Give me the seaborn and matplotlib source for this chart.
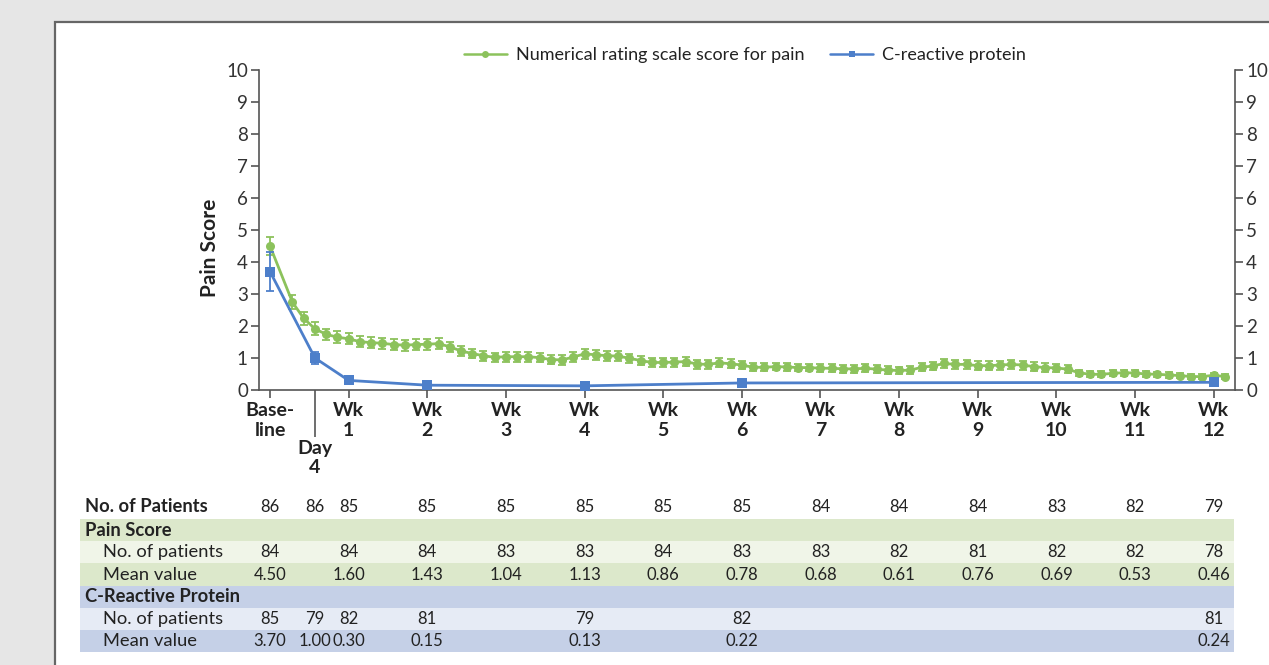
import matplotlib
matplotlib.use("Agg")
import matplotlib.pyplot as plt
import matplotlib.transforms as mtransforms
from matplotlib.patches import Rectangle
from matplotlib.lines import Line2D
import pandas as pd
import seaborn as sns

# ---- data -------------------------------------------------------------
# Daily numerical rating scale (NRS) pain score; day 0 is baseline
pain_days = [0] + list(range(2, 86))
pain_mean = [
    4.50, 2.74, 2.24, 1.91, 1.74, 1.65, 1.60, 1.51, 1.48, 1.46,
    1.42, 1.40, 1.42, 1.43, 1.45, 1.35, 1.22, 1.14, 1.07, 1.02,
    1.04, 1.04, 1.04, 1.01, 0.95, 0.94, 1.03, 1.13, 1.10, 1.07,
    1.06, 0.99, 0.92, 0.86, 0.86, 0.87, 0.89, 0.81, 0.80, 0.85,
    0.82, 0.78, 0.71, 0.71, 0.73, 0.72, 0.70, 0.70, 0.68, 0.68,
    0.66, 0.66, 0.68, 0.65, 0.62, 0.61, 0.62, 0.71, 0.75, 0.83,
    0.80, 0.80, 0.76, 0.76, 0.78, 0.80, 0.78, 0.73, 0.70, 0.69,
    0.65, 0.54, 0.49, 0.49, 0.52, 0.54, 0.53, 0.50, 0.49, 0.47,
    0.45, 0.42, 0.42, 0.46, 0.42,
]
pain_err = [
    0.27, 0.22, 0.20, 0.20, 0.18, 0.18, 0.17, 0.17, 0.17, 0.17,
    0.17, 0.17, 0.17, 0.17, 0.17, 0.16, 0.16, 0.15, 0.15, 0.15,
    0.15, 0.15, 0.15, 0.15, 0.15, 0.15, 0.15, 0.16, 0.16, 0.15,
    0.15, 0.15, 0.15, 0.14, 0.14, 0.14, 0.14, 0.14, 0.14, 0.14,
    0.14, 0.13, 0.12, 0.12, 0.12, 0.12, 0.12, 0.12, 0.12, 0.12,
    0.12, 0.12, 0.12, 0.12, 0.12, 0.12, 0.12, 0.13, 0.14, 0.15,
    0.15, 0.15, 0.14, 0.14, 0.14, 0.14, 0.14, 0.13, 0.13, 0.13,
    0.12, 0.10, 0.09, 0.09, 0.09, 0.09, 0.09, 0.09, 0.08, 0.08,
    0.08, 0.08, 0.08, 0.08, 0.08,
]

# C-reactive protein (mg/dl)
crp_days = [0, 4, 7, 14, 28, 42, 84]
crp_mean = [3.70, 1.00, 0.30, 0.15, 0.13, 0.22, 0.24]
crp_err = [0.62, 0.20, 0.04, 0.03, 0.03, 0.03, 0.04]

# Axis ticks
week_days = [0, 7, 14, 21, 28, 35, 42, 49, 56, 63, 70, 77, 84]
week_labels = ["Base-\nline"] + [f"Wk\n{w}" for w in range(1, 13)]

# Table below the chart
table_days = [0, 4, 7, 14, 21, 28, 35, 42, 49, 56, 63, 70, 77, 84]
n_patients = [86, 86, 85, 85, 85, 85, 85, 85, 84, 84, 84, 83, 82, 79]
pain_table_days = week_days
pain_n = [84, 84, 84, 83, 83, 84, 83, 83, 82, 81, 82, 82, 78]
pain_table_mean = ["4.50", "1.60", "1.43", "1.04", "1.13", "0.86", "0.78",
                   "0.68", "0.61", "0.76", "0.69", "0.53", "0.46"]
crp_n = [85, 79, 82, 81, 79, 82, 81]
crp_table_mean = ["3.70", "1.00", "0.30", "0.15", "0.13", "0.22", "0.24"]

# ---- style ------------------------------------------------------------
GREEN = "#8cc25c"
BLUE = "#4d7fca"
AXIS = "#555555"
TEXT = "#222222"
W, H = 1269, 665

sns.set_theme(style="white")
plt.rcParams["font.family"] = ["Lato", "DejaVu Sans"]
plt.rcParams["text.color"] = TEXT

fig = plt.figure(figsize=(W / 100, H / 100), dpi=100, facecolor="#e6e6e6")

# white panel with a dark frame
fig.add_artist(Rectangle((55 / W, -0.1), 1.2, 1 - 22 / H + 0.1,
                         transform=fig.transFigure, facecolor="white",
                         edgecolor="#666666", lw=1.6, zorder=-5))

ax = fig.add_axes([259 / W, 1 - 390 / H, (1235 - 259) / W, (390 - 70) / H])
ax.set_facecolor("none")

# pain score series
pain_df = pd.DataFrame({"day": pain_days, "score": pain_mean})
ax.errorbar(pain_days, pain_mean, yerr=pain_err, fmt="none", ecolor=GREEN,
            elinewidth=1.3, capsize=3.0, capthick=1.3, zorder=2)
sns.lineplot(data=pain_df, x="day", y="score", color=GREEN, marker="o",
             markersize=6.5, markeredgewidth=0, linewidth=2.0,
             estimator=None, errorbar=None, ax=ax, zorder=3)

# CRP series
crp_df = pd.DataFrame({"day": crp_days, "crp": crp_mean})
ax.errorbar(crp_days, crp_mean, yerr=crp_err, fmt="none", ecolor=BLUE,
            elinewidth=1.3, capsize=3.0, capthick=1.3, zorder=4)
sns.lineplot(data=crp_df, x="day", y="crp", color=BLUE, marker="s",
             markersize=6.5, markeredgewidth=0, linewidth=2.0,
             estimator=None, errorbar=None, ax=ax, zorder=5)

ax.set_xlim(-0.98, 85.9)
ax.set_ylim(0, 10)
ax.set_xlabel("")
ax.set_ylabel("")

for side in ("left", "right", "bottom"):
    ax.spines[side].set_visible(True)
    ax.spines[side].set_color(AXIS)
    ax.spines[side].set_linewidth(1.2)
ax.spines["top"].set_visible(False)

ax.set_yticks(range(0, 11))
ax.tick_params(axis="y", left=True, right=True, labelleft=True,
               labelright=True, direction="out", length=6, width=1.2,
               color=AXIS, labelsize=13.5, labelcolor="#333333", pad=2)

ax.set_xticks(week_days, week_labels)
ax.set_xticks([4], ["Day\n4"], minor=True)
ax.tick_params(axis="x", which="major", bottom=True, direction="out",
               length=6, width=1.2, color=AXIS, labelsize=14,
               labelcolor=TEXT, pad=3)
ax.tick_params(axis="x", which="minor", bottom=True, direction="out",
               length=34, width=1.2, color=AXIS, labelsize=14,
               labelcolor=TEXT, pad=2)
for lbl in ax.get_xticklabels(which="both"):
    lbl.set_fontweight("bold")
    lbl.set_linespacing(1.15)

fig.text(210 / W, 1 - 248 / H, "Pain Score", rotation=90, ha="center",
         va="center", fontsize=15, fontweight="bold", color=TEXT)

# legend
handles = [
    Line2D([], [], color=GREEN, marker="o", markersize=5, lw=1.8,
           markeredgewidth=0),
    Line2D([], [], color=BLUE, marker="s", markersize=5, lw=1.8,
           markeredgewidth=0),
]
fig.legend(handles, ["Numerical rating scale score for pain",
                     "C-reactive protein"],
           loc="center", bbox_to_anchor=(745 / W, 1 - 55 / H), ncol=2,
           frameon=False, fontsize=13, handlelength=2.4, handletextpad=0.5,
           columnspacing=1.4)

# ---- table ------------------------------------------------------------
x0, x1 = 80, 1234
bands = [
    (519, 541, "#dce8cb"),
    (541, 563, "#f0f5e8"),
    (563, 586, "#dce8cb"),
    (586, 608, "#c5d0e7"),
    (608, 630, "#e6ebf5"),
    (630, 652, "#c5d0e7"),
]
for top, bot, col in bands:
    fig.add_artist(Rectangle((x0 / W, 1 - bot / H), (x1 - x0) / W,
                             (bot - top) / H, transform=fig.transFigure,
                             facecolor=col, edgecolor="none", zorder=-4))

row_y = {
    "total": 507, "pain_head": 530, "pain_n": 552, "pain_mean": 575,
    "crp_head": 597, "crp_n": 619, "crp_mean": 641,
}


def fy(py):
    return 1 - py / H


LABEL_SIZE = 13.2
fig.text(85 / W, fy(row_y["total"]), "No. of Patients", fontsize=LABEL_SIZE,
         fontweight="bold", va="center", ha="left")
fig.text(85 / W, fy(row_y["pain_head"]), "Pain Score", fontsize=LABEL_SIZE,
         fontweight="bold", va="center", ha="left")
fig.text(103 / W, fy(row_y["pain_n"]), "No. of patients", fontsize=LABEL_SIZE,
         va="center", ha="left")
fig.text(103 / W, fy(row_y["pain_mean"]), "Mean value", fontsize=LABEL_SIZE,
         va="center", ha="left")
fig.text(85 / W, fy(row_y["crp_head"]), "C-Reactive Protein",
         fontsize=LABEL_SIZE, fontweight="bold", va="center", ha="left")
fig.text(103 / W, fy(row_y["crp_n"]), "No. of patients", fontsize=LABEL_SIZE,
         va="center", ha="left")
fig.text(103 / W, fy(row_y["crp_mean"]), "Mean value", fontsize=LABEL_SIZE,
         va="center", ha="left")

trans = mtransforms.blended_transform_factory(ax.transData, fig.transFigure)


def table_row(days, values, py):
    for d, v in zip(days, values):
        ax.text(d, fy(py), str(v), transform=trans, ha="center", va="center",
                fontsize=12, color=TEXT, clip_on=False)


table_row(table_days, n_patients, row_y["total"])
table_row(pain_table_days, pain_n, row_y["pain_n"])
table_row(pain_table_days, pain_table_mean, row_y["pain_mean"])
table_row(crp_days, crp_n, row_y["crp_n"])
table_row(crp_days, crp_table_mean, row_y["crp_mean"])

fig.savefig("out.png", dpi=100, facecolor=fig.get_facecolor())
